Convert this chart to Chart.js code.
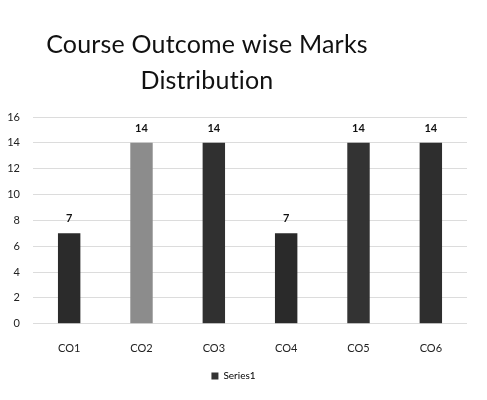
<!DOCTYPE html>
<html lang="en">
<head>
    <meta charset="UTF-8">
    <title>Course Outcome wise Marks Distribution</title>
    <script src="https://cdn.jsdelivr.net/npm/chart.js"></script>
    <style>
        html, body { margin: 0; padding: 0; background: #fff; }
        #wrap { position: relative; width: 487px; height: 400px; }
    </style>
</head>
<body>
    <div id="wrap"><canvas id="coChart"></canvas></div>

    <script>
        // chart data
        const outcomes = ['CO1', 'CO2', 'CO3', 'CO4', 'CO5', 'CO6'];
        const marks = [7, 14, 14, 7, 14, 14];
        const barColors = ['#2b2b2b', '#8c8c8c', '#303030', '#2a2a2a', '#333333', '#2e2e2e'];
        const yTicks = [0, 2, 4, 6, 8, 10, 12, 14, 16];
        const titleLines = ['Course Outcome wise Marks', 'Distribution'];

        // title drawn slightly left of centre, like the photo
        const titlePlugin = {
            id: 'offsetTitle',
            afterDraw(chart) {
                const ctx = chart.ctx;
                ctx.save();
                ctx.fillStyle = '#111';
                ctx.font = '25px Lato, "Open Sans", sans-serif';
                ctx.letterSpacing = '0.2px'; // also stops the "ti" ligature
                ctx.textAlign = 'center';
                ctx.textBaseline = 'alphabetic';
                titleLines.forEach((line, i) => {
                    ctx.fillText(line, chart.width * 0.425, 53 + i * 36);
                });
                ctx.restore();
            }
        };

        // value above each bar
        const valueLabels = {
            id: 'valueLabels',
            afterDatasetsDraw(chart) {
                const ctx = chart.ctx;
                const meta = chart.getDatasetMeta(0);
                ctx.save();
                ctx.fillStyle = '#111';
                ctx.font = 'bold 11px Lato, "Open Sans", sans-serif';
                ctx.textAlign = 'center';
                ctx.textBaseline = 'bottom';
                meta.data.forEach((bar, i) => {
                    ctx.fillText(marks[i], bar.x, bar.y - 9);
                });
                ctx.restore();
            }
        };

        const ctx = document.getElementById('coChart').getContext('2d');
        new Chart(ctx, {
            type: 'bar',
            data: {
                labels: outcomes,
                datasets: [{
                    label: 'Series1',
                    data: marks,
                    backgroundColor: barColors,
                    categoryPercentage: 0.31,
                    barPercentage: 1.0
                }]
            },
            plugins: [titlePlugin, valueLabels],
            options: {
                responsive: true,
                maintainAspectRatio: false,
                animation: false,
                layout: { padding: { top: 117, left: 0, right: 20, bottom: 9 } },
                plugins: {
                    title: { display: false },
                    tooltip: { enabled: false },
                    legend: {
                        position: 'bottom',
                        labels: {
                            boxWidth: 7,
                            boxHeight: 7,
                            color: '#222',
                            padding: 6,
                            font: { family: 'Lato, "Open Sans", sans-serif', size: 10 },
                            generateLabels: () => [{
                                text: 'Series1',
                                fillStyle: '#333',
                                strokeStyle: '#333',
                                lineWidth: 0
                            }]
                        }
                    }
                },
                scales: {
                    x: {
                        grid: { display: false },
                        border: { display: false },
                        ticks: {
                            color: '#222',
                            padding: 10,
                            font: { family: 'Lato, "Open Sans", sans-serif', size: 11 }
                        }
                    },
                    y: {
                        min: yTicks[0],
                        max: yTicks[yTicks.length - 1],
                        grid: { color: '#dcdcdc', drawTicks: false },
                        border: { display: false },
                        afterBuildTicks: axis => { axis.ticks = yTicks.map(v => ({ value: v })); },
                        afterFit: axis => { axis.width = 33; },
                        ticks: {
                            color: '#222',
                            padding: 13,
                            font: { family: 'Lato, "Open Sans", sans-serif', size: 11 }
                        }
                    }
                }
            }
        });
    </script>
</body>
</html>
